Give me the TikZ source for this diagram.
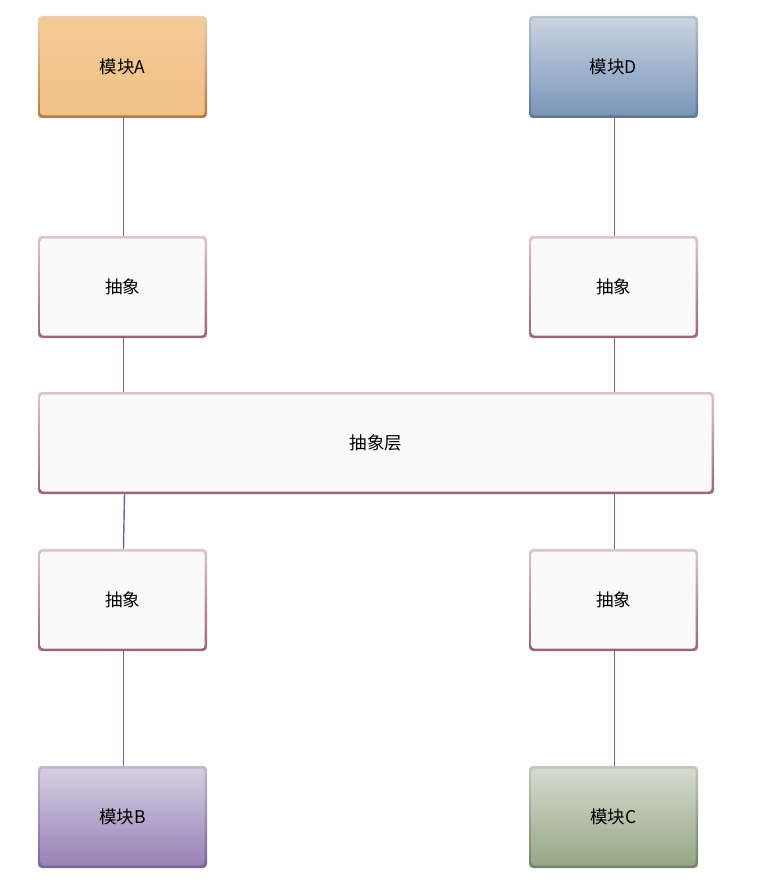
\documentclass[tikz,border=0pt]{standalone}
\usepackage{fontspec}
\setmainfont{Noto Sans CJK SC}
\definecolor{linec}{HTML}{7A5FA5}
\definecolor{Abt}{HTML}{E8CDB8}
\definecolor{Abb}{HTML}{B97A3C}
\definecolor{Aft}{HTML}{F4CA96}
\definecolor{Afb}{HTML}{F1C189}
\definecolor{Dbt}{HTML}{B8C0CC}
\definecolor{Dbb}{HTML}{5F7591}
\definecolor{Dft}{HTML}{CBD4E2}
\definecolor{Dfb}{HTML}{7794B9}
\definecolor{Bbt}{HTML}{C0B8CC}
\definecolor{Bbb}{HTML}{76649A}
\definecolor{Bft}{HTML}{D7CFE3}
\definecolor{Bfb}{HTML}{9580B5}
\definecolor{Cbt}{HTML}{C0C6BC}
\definecolor{Cbb}{HTML}{75826A}
\definecolor{Cft}{HTML}{D6DCD0}
\definecolor{Cfb}{HTML}{95A583}
\definecolor{Xbt}{HTML}{DCC5CE}
\definecolor{Xbb}{HTML}{9C6479}
\definecolor{Xf}{HTML}{FAFAFA}
\tikzset{
  boxbase/.style n args={4}{rectangle, rounded corners=4pt, inner sep=0pt,
    top color=#1, bottom color=#2, draw=none,
    minimum width=169pt, minimum height=102pt,
    font=\fontsize{17.5}{20}\selectfont, text=black,
    path picture={\shade[top color=#3, bottom color=#4, rounded corners=3pt]
      ([shift={(2.5pt,-2.5pt)}]path picture bounding box.north west) rectangle
      ([shift={(-2.5pt,2.5pt)}]path picture bounding box.south east);}},
  conn/.style={draw=linec, line width=1.4pt}
}

\begin{document}

\begin{tikzpicture}[x=1pt,y=-1pt]
\useasboundingbox[fill=white] (0,0) rectangle (775,893);
\node[boxbase={Abt}{Abb}{Aft}{Afb}] (A) at (122.5,67) {模块A};
\node[boxbase={Dbt}{Dbb}{Dft}{Dfb}] (D) at (613.5,67) {模块D};
\node[boxbase={Xbt}{Xbb}{Xf}{Xf}] (a1) at (122.5,287) {抽象};
\node[boxbase={Xbt}{Xbb}{Xf}{Xf}] (a2) at (613.5,287) {抽象};
\node[boxbase={Xbt}{Xbb}{Xf}{Xf}, minimum width=676pt] (L) at (376,443) {抽象层};
\node[boxbase={Xbt}{Xbb}{Xf}{Xf}] (a3) at (122.5,600) {抽象};
\node[boxbase={Xbt}{Xbb}{Xf}{Xf}] (a4) at (613.5,600) {抽象};
\node[boxbase={Bbt}{Bbb}{Bft}{Bfb}] (B) at (122.5,817) {模块B};
\node[boxbase={Cbt}{Cbb}{Cft}{Cfb}] (C) at (613.5,817) {模块C};
\draw[conn] ([xshift=1pt]A.south) -- ([xshift=1pt]a1.north);
\draw[conn] ([xshift=1pt]D.south) -- ([xshift=1pt]a2.north);
\draw[conn] ([xshift=1pt]a1.south) -- ([xshift=1pt]a1.south |- L.north);
\draw[conn] ([xshift=1pt]a2.south) -- ([xshift=1pt]a2.south |- L.north);
\draw[conn] ([xshift=2pt]a3.north |- L.south) -- ([xshift=1pt]a3.north);
\draw[conn] ([xshift=1pt]a4.north |- L.south) -- ([xshift=1pt]a4.north);
\draw[conn] ([xshift=1pt]a3.south) -- ([xshift=1pt]B.north);
\draw[conn] ([xshift=1pt]a4.south) -- ([xshift=1pt]C.north);
\end{tikzpicture}

\end{document}
